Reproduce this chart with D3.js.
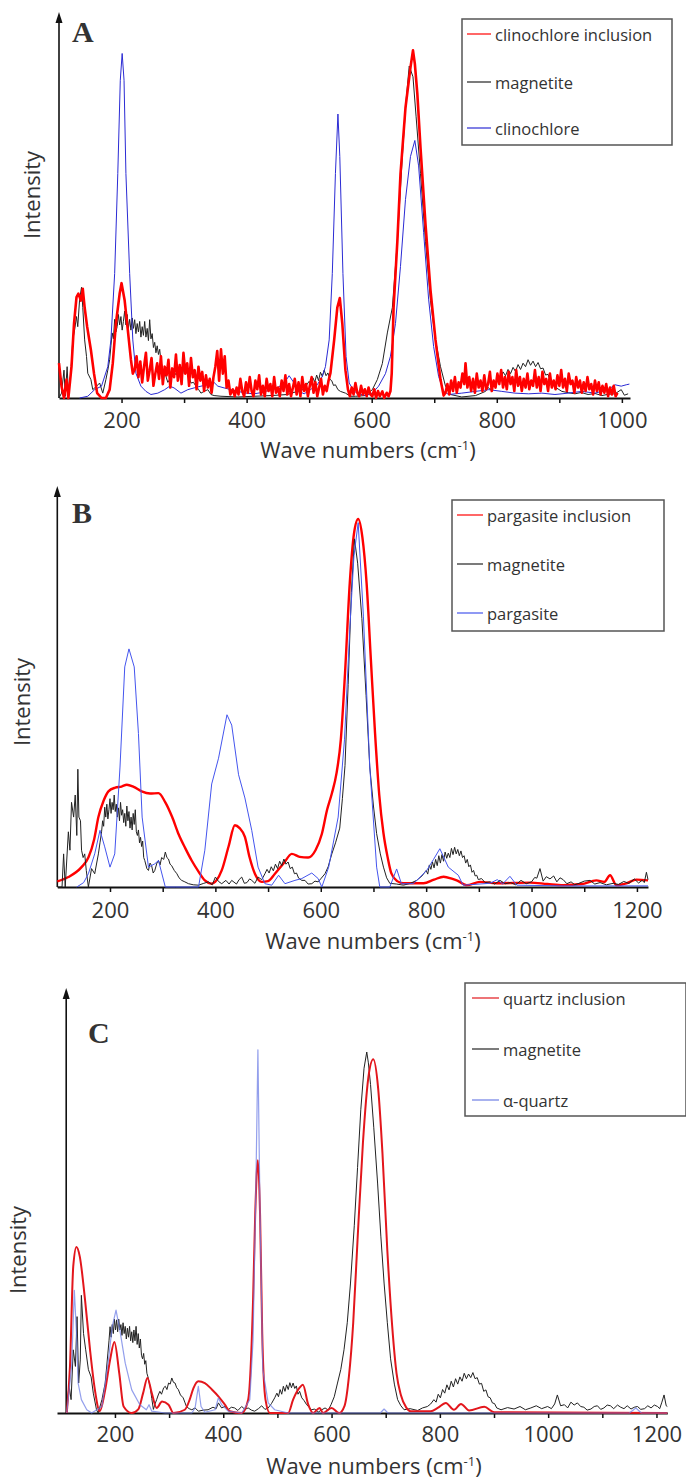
<!DOCTYPE html>
<html>
<head>
<meta charset="utf-8">
<script src="https://cdn.jsdelivr.net/npm/d3@7"></script>
<style>
  body { margin: 0; background: #fff; }
  text { font-family: "Open Sans", sans-serif; fill: #333; }
</style>
</head>
<body>
<svg id="chart" width="686" height="1481"></svg>
<script>
// ---- Panel A: clinochlore (wavenumber, relative intensity 0-100) ----
const aInclusion = [[100,10],[104,3.4],[108,0],[112,5.3],[115,0],[120,9],[124,21.4],[128,29],[131,30],[135,28],[138,31.4],[141,26],[145,20.5],[151,13.8],[156,7],[161,1.4],[168,0],[175,0],[181,2.4],[186,10],[191,21.4],[197,30],[200,33],[205,28],[210,19.6],[215,11],[218,7],
  [221,8.2],[224,12],[227,6],[230,10.5],[233,4.5],[236,9],[239,13],[242,5],[245,8],[248,11.5],[251,3.5],[254,7],[257,10],[260,5.5],[263,12],[266,4],[269,9],[272,6.5],[275,11],[278,3],[281,8.5],[284,6],[287,12.5],[290,5],[293,9.5],[296,4],[299,13],[302,7],[305,10],[308,3.5],[311,11.5],[314,6],[317,8],[320,2.5],[323,9],[326,5],[329,7.5],[332,2],[335,6.5],[338,3],[341,5.5],[344,1.5],[347,6],[350,9],[353,13.5],[356,5],[359,14],[362,7],[365,12],[368,3],[371,5],[374,1],
  [378,2.5],[381,0.5],[384,3],[387,1],[390,5.5],[393,2],[396,0.5],[399,4.5],[402,1.5],[405,6],[408,2],[411,0.5],[414,5],[417,2.5],[420,6.5],[423,1],[426,3.5],[429,0.5],[432,5.5],[435,2],[438,4],[441,0.5],[444,6],[447,1.5],[450,3],[453,0.5],[456,5],[459,2],[462,6.5],[465,1],[468,4],[471,0.5],[474,3],[477,5.5],[480,1],[483,4.5],[486,0.5],[489,6],[492,2],[495,4],[498,0.5],[501,3.5],[504,6],[507,1.5],[510,4.5],[513,0.5],[516,3],[519,5.5],[522,1],[525,3.5],[528,2],[531,5],
  [534,7.1],[540,16.7],[545,26],[549,28.7],[553,21.4],[558,8],[562,2.5],[565,0.5],[568,3],[571,1],[574,4.3],[577,1.5],[580,0.5],[583,3.5],[586,1],[589,2.5],[592,0.5],[595,3],[598,1],[601,0.5],[604,2.5],[607,0],[610,2],[613,0.5],[617,1.9],[620,0],[624,1.5],[627,0.5],[630,2],[632,7.1],[635,26],[641,45],[646,64.3],[654,83.4],[662,95],[666,99.9],[669,96],[673,87.3],[678,72],[686,50],[694,31],[702,16.7],[710,5.3],[715,0.7],
  [718,1.5],[721,4],[724,1],[727,5],[730,2],[733,6],[736,1.5],[739,4.5],[742,3],[745,7],[748,4],[750,10],[753,3],[756,6],[759,2],[762,5.5],[765,1.5],[768,7],[771,3],[774,5],[777,2],[780,6.5],[783,2.5],[786,4],[789,7.5],[792,2],[795,5],[798,3],[801,7],[804,4],[807,8],[810,3],[813,6],[816,2.5],[819,7.5],[822,4],[825,6],[828,2],[831,8],[834,3.5],[837,6],[840,2],[843,5.5],[846,3],[849,7],[852,2.5],[855,5],[858,3.5],[861,8],[864,3],[867,6],[870,2],[873,7.5],[876,4],[879,5.5],[882,2],[885,7],[888,3],[891,5],[894,2.5],[897,6.5],[900,3.5],[903,8],[906,3],[909,5.5],[912,2],[915,7],[918,4],[921,5],[924,1.5],[927,6],[930,3],[933,5],[936,1.5],[939,4.5],[942,2],[945,6],[948,2.5],[951,4],[954,1],[957,5],[960,2],[963,4.5],[966,1],[969,3.5],[972,1.5],[975,4],[978,0.5],[981,3],[984,1],[987,3.5],[990,0.5],[993,1.5]];
const aMagnetite = [[100,0],[104,1.4],[108,8],[110,0.5],[113,9],[115,1.4],[119,7.1],[122,16.7],[125,19.6],[128,23.4],[130,20.5],[133,28.4],[136,31.8],[138,26],[141,16.7],[144,11.9],[146,7.1],[151,5.3],[154,2.4],[160,3.4],[165,4.3],[170,1.4],[175,5.3],[178,8],
  [181,11],[183,15],[185,18.7],[187,17],[189,22.6],[191,19],[193,20.5],[195,24],[197,21],[199,23.4],[201,19.5],[203,22],[205,25],[207,21],[209,24],[211,20],[213,22.6],[215,19.5],[217,23],[219,20],[221,22.5],[223,18.5],[225,21.4],[227,19],[229,22],[231,17.5],[233,20.5],[235,18],[237,22],[239,17.5],[241,20],[243,16.5],[245,22.5],[247,17],[249,18.5],[251,14.5],[253,16],[255,13],[257,15],[259,12.5],[261,14],[263,10.5],[265,9],[267,7.5],
  [271,6.2],[274,4.5],[277,5.3],[280,7.5],[283,6],[287,7.1],[291,6],[295,8],[298,7],[300,9.4],[303,8],[306,7.1],[309,5.5],[311,4.3],[315,4.5],[319,3.4],[323,2.5],[327,1.4],[333,2],[338,2.4],[343,1],[348,0.7],[359,0.5],[386,0.3],[412,0.5],[439,0.7],[465,1],[481,1.9],[490,2.4],[495,3.5],
  [500,4.8],[503,3.8],[506,5.8],[509,4.6],[512,6.6],[515,5],[518,7.4],[521,6.2],[524,8],[527,6.4],[530,7.2],[533,5.4],[536,5],[539,3.6],[542,3.8],[546,2.4],[550,1.9],[558,1.4],[566,0.5],[574,0.5],[590,0.7],[601,2.4],[609,5.3],[617,9.9],[625,18.7],[633,26],[641,45],[649,69.4],[655,85.6],[660,95.4],[666,92.3],[671,80.8],[678,64.5],[686,45],[694,28],[702,16.7],[710,9],[718,3.4],[726,1],[744,0.3],[766,0.7],
  [782,1.9],[786,3],[790,2.4],[794,4.5],[798,3.8],[802,6.5],[806,5.2],[810,7.5],[814,6.4],[818,8.2],[822,7],[826,8.8],[830,7.6],[834,9.6],[838,8.2],[842,10],[846,9],[850,11],[854,9.4],[858,10.6],[862,9],[866,10.2],[870,8.4],[874,8.6],[878,6.6],[882,6.8],[886,4.6],[890,4.4],[894,3],[898,2.6],[904,1.9],[915,1.5],[925,1.2],[935,1.6],[946,1],[957,1.3],[968,0.7],[979,1.1],[989,1.2],[999,2.4],[1004,0.8],[1010,1.2]];
const aClinochlore = [[133,0],[146,0.5],[157,2.4],[168,3.4],[178,9],[183,16.7],[189,35.8],[194,64.5],[198,91.3],[201,99],[204,91.3],[207,64.5],[213,35.8],[218,16.7],[223,7.1],[231,3.4],[239,1.9],[247,1],[258,1.4],[269,2.4],[277,3.4],[284,2.9],[295,1.4],[306,2.4],[316,2.9],[327,3.4],[338,3.8],[346,4.8],[354,3.4],[364,2.9],[375,2.4],[386,1.9],[399,1.4],[412,1.2],[425,1.6],[439,2.4],[449,2.9],[460,4.3],[468,6.4],[476,4.3],[484,1.9],[492,1.2],[502,2.4],[513,3.8],[521,6.2],[526,9],[532,16.7],[537,35.8],[542,64.5],[546,81.6],[549,69.4],[554,35.8],[559,11.9],[564,4.3],[572,1.9],[580,1.2],[590,0.7],[601,1.4],[611,3.4],[622,7],[630,12],[638,21.4],[646,37.8],[654,57],[662,69.4],[669,74],[675,66.7],[683,47.6],[691,28.4],[699,14.8],[707,6.2],[715,1.9],[723,1],[744,1.4],[766,1.9],[787,2.4],[808,1.9],[829,1.4],[851,1.2],[872,1.4],[893,1],[914,1.4],[936,1.9],[957,1.4],[978,2.4],[989,3.8],[999,3.4],[1007,3.8],[1012,4]];

// ---- Panel B: pargasite ----
const bInclusion = [[100,1.5],[121,2.7],[146,5.4],[159,8],[170,13],[178,19],[188,23.5],[197,26],[210,27],[222,27.3],[232,27.8],[245,27.2],[260,26],[276,25.4],[292,25.5],[305,23],[318,19],[330,14.4],[343,10.5],[355,7.2],[368,4.2],[380,1.8],[393,0.9],[402,1.8],[412,4.5],[425,11],[437,16.8],[446,16],[456,13.6],[465,8],[475,3.6],[488,1.4],[500,1.6],[513,3.6],[530,6.5],[545,9],[560,8.2],[576,8],[590,10],[602,14.4],[612,21],[621,25.4],[630,31],[638,40],[646,58],[655,82.5],[663,96],[671,100],[679,95],[687,82.5],[695,62],[703,41.8],[711,25],[719,14.6],[727,8],[734,3.7],[745,1.6],[757,1],[795,1],[815,2],[833,2.8],[850,2.2],[858,1.8],[877,0.5],[902,1.4],[934,1],[997,1.2],[1030,0.8],[1060,0.5],[1095,0.8],[1123,1.8],[1138,1.4],[1149,3.2],[1161,0.5],[1180,1],[1199,2],[1221,1.8]];
const bMagnetite = [[100,0],[109,0],[112,9],[115,0],[121,15],[124,10],[127,23],[131,19],[134,25],[137,14],[139,32],[141,19],[144,18],[146,10],[149,8],[152,9],[155,4.5],[159,0],[165,5],[171,3.6],[178,9],[181,12],
  [184,15],[186,18],[188,16.5],[190,21.7],[192,19],[194,22.5],[196,18.5],[198,21],[200,24],[202,20],[204,23],[206,21],[208,25],[210,20.5],[212,22.5],[214,19],[216,21.5],[218,18],[220,23],[222,19.5],[224,21],[226,17.5],[228,20],[230,16.5],[232,22],[234,18],[236,20.5],[238,16],[240,19],[242,15.5],[244,20],[246,17],[248,21],[250,15],[252,14],[254,15.5],[256,12],[258,13.5],[260,11],[262,12.5],[264,8],[266,7.2],
  [270,5],[273,4.5],[276,6.5],[279,5.8],[282,3.8],[285,4.5],[289,6.5],[292,7.2],[295,6],[298,8],[302,7.5],[305,9.5],[308,8],[311,7.6],[314,6.2],[317,5.8],[322,4.5],[327,3.6],[331,2.5],[336,1.8],[342,1.4],[349,0.9],[358,0.6],[368,0.5],[378,1],[387,1.4],[394,0.6],[400,2.7],[406,1.5],[412,0.9],[420,1.8],[426,0.8],[431,1.8],[440,0.8],[445,2],[450,2.7],[455,1],[460,1.2],[465,2.2],[469,1.8],[475,1],[481,2.7],[488,2],
  [494,3.6],[498,4.8],[502,3.8],[506,5.5],[510,4.4],[514,6.2],[518,5],[522,7],[526,5.8],[530,7.6],[534,6.2],[538,6.8],[542,5],[546,5.4],[550,3.6],[554,3.8],[558,2.4],[564,1.8],[570,1.8],[576,0.8],[583,0.9],[589,1.6],[595,1.4],[601,2.4],[608,3.6],[614,5.5],[621,9],[628,12],[636,16],[641,24],[646,33],[652,55],[658,80],[664,94.6],[670,88],[678,73],[686,52],[693,32.6],[700,22],[706,14.5],[713,9],[719,5.4],[725,2.5],[731,1],[744,0.8],[757,0.5],[770,1],[782,1.8],[792,3],
  [800,4.5],[803,3.5],[806,6],[809,4.8],[812,6.8],[815,5.2],[818,7.5],[821,5.8],[824,8.5],[827,6.5],[830,8.8],[833,7],[836,9.5],[839,7.8],[842,9.2],[845,8],[848,10.5],[851,8.8],[854,10.8],[857,9],[860,10.2],[863,8.5],[866,9.8],[869,8],[872,8.5],[875,6.5],[878,7.5],[881,5.5],[884,6],[887,4],[890,4.5],[893,3],[896,3.2],[899,2],
  [905,2.3],[912,1.2],[921,1.4],[930,0.8],[940,1.8],[950,0.9],[960,1.2],[970,0.6],[980,1.8],[990,0.9],[1000,1.4],[1006,2.6],[1010,2.4],[1016,5],[1022,1.6],[1028,2.8],[1035,2.2],[1042,3],[1048,1.4],[1054,2.5],[1060,2],[1067,0.9],[1075,1.4],[1082,0.6],[1090,1],[1100,1.6],[1111,1.8],[1120,0.8],[1130,1.2],[1142,0.6],[1155,1],[1165,0.7],[1175,1.5],[1185,1],[1195,2.2],[1203,1.1],[1210,1.8],[1214,1.2],[1218,4],[1221,2]];
const bPargasite = [[137,0],[150,1.2],[159,3.6],[171,9],[181,15.4],[190,10.9],[200,5.4],[209,9],[219,32.6],[228,59.8],[236,64.7],[246,59.8],[254,41.7],[261,19],[273,5.4],[285,6.3],[292,7.2],[305,0],[324,0],[368,0],[380,10],[393,28],[406,35],[422,46.8],[431,44],[444,30.5],[456,24.2],[469,15.4],[481,5.4],[494,0.9],[507,0.5],[520,3.2],[532,0.9],[551,1.8],[564,2.3],[583,3.8],[595,2.3],[602,0],[615,5.4],[633,19],[645,40],[655,70],[663,90],[671,99],[681,73.4],[693,32.6],[706,5.4],[712,0],[731,0],[744,4.9],[753,0.9],[776,0.9],[801,4.5],[814,7.5],[826,10.4],[842,5.4],[861,3.2],[870,0.5],[921,1],[935,2],[945,0.8],[959,2.9],[972,0.5],[1060,0.3],[1221,0.3]];

// ---- Panel C: quartz ----
const cInclusion = [[111,0],[117,13],[123,40.6],[129,46],[135,43.4],[145,31],[154,17.5],[163,6.4],[172,0.5],[182,6.4],[191,14.7],[199,19.7],[208,11],[216,1.8],[231,0],[243,1],[252,5.5],[260,9.7],[268,5.5],[277,1.4],[287,3.2],[299,2.3],[308,0],[329,0.9],[338,3.7],[345,6.9],[354,8.8],[366,8.3],[379,6.5],[391,4.6],[403,2.3],[412,0.5],[434,0],[446,3.7],[455,31],[459,55],[464,70],[468,55],[472,22],[478,3.7],[486,0],[520,0],[529,3.7],[541,7],[547,7.8],[557,2.3],[566,0],[578,1.4],[584,0],[600,1.4],[614,0],[624,2],[632,10],[640,25],[648,48],[658,75],[668,93],[677,98],[686,90],[694,72],[703,45],[712,24],[720,11],[728,5],[738,1.5],[746,0.5],[783,0.5],[796,1.4],[811,2.8],[826,0.9],[839,2.5],[854,0.7],[882,1.7],[900,0.2],[1220,0]];
const cMagnetite = [[111,0],[115,8],[119,3.7],[123,17.5],[127,12.9],[130,26.7],[133,8.3],[136,14.7],[138,32.6],[142,22],[146,17.5],[151,12],[156,10],[160,5.5],[166,0.9],[169,0],[176,3.7],[182,8.3],
  [187,16.6],[189,20],[191,23.9],[193,21],[195,24.5],[197,22],[199,26],[201,23],[203,25.8],[205,22.5],[207,26],[209,23],[211,24.5],[213,21.5],[215,25],[217,22],[219,24],[221,20.5],[223,23.5],[225,21],[227,24],[229,20],[231,22.5],[233,19.5],[235,23],[237,20],[239,24],[241,19],[243,22],[245,18],[247,20.5],[249,16],[251,15],[253,16.5],[255,13.5],[257,14.5],[259,11],[261,10],[263,8.5],[265,7.4],
  [268,4],[271,1],[274,2.5],[277,3.7],[280,5],[283,6],[286,5.2],[290,7],[293,7.4],[296,6.5],[299,8.3],[302,8],[305,9.7],[308,8.5],[311,8.3],[314,7],[317,6.5],[321,5],[326,4.2],[329,3],[332,1.8],[337,1.2],[342,0.9],[348,1.4],[354,0.5],[363,0.8],[372,0.9],[381,1.6],[387,1.2],[391,2.8],[397,1.4],[403,1.8],[409,0.9],[415,1.6],[421,1.4],[427,0.7],[434,1.8],[440,1],[446,1.4],[452,0.8],[458,0.5],[465,1.2],[471,2],[477,1],[483,1.4],[489,2.6],
  [495,4.2],[499,5.5],[502,4.5],[505,6.5],[508,5.2],[511,7.4],[514,6],[517,7.8],[520,6.5],[523,8.4],[526,7],[529,8.3],[532,6.8],[535,7.5],[538,5.2],[541,6],[545,4.2],[549,3.5],[554,2.3],[563,0.9],[569,1.1],[575,0.2],[582,0.9],[588,1.4],[594,0.8],[599,2.3],[605,4.5],[611,8.3],[617,12],[623,17.5],[629,25],[635,36],[642,52],[648,68],[654,84],[660,95.5],[665,100],[668,97],[672,91],[678,79],[685,63.7],[691,49],[697,36],[703,25],[709,15],[716,8],[722,3.7],[728,2],[734,0.9],[745,1.2],[759,0.7],[768,1.4],[777,1.8],[783,2.5],
  [789,3.7],[793,3],[797,5.2],[801,4.2],[805,6.5],[809,5.5],[813,7.8],[817,6.4],[821,8.8],[825,7.2],[829,9.5],[833,8],[837,10],[841,8.8],[845,11],[849,9.5],[853,10.8],[857,9.8],[861,11.2],[865,9.5],[869,9.8],[873,8],[877,8.2],[881,6],[885,6.4],[889,4.5],[893,4.2],[897,2.8],[901,2.6],[905,1.4],[913,0.9],
  [925,1.5],[937,1.1],[948,1.8],[958,0.9],[968,1.4],[978,2],[988,1.2],[999,1.8],[1006,1.2],[1012,2.5],[1017,5],[1023,2],[1030,2.3],[1036,1.4],[1042,3],[1048,2.2],[1054,2.8],[1060,1.8],[1066,1.6],[1072,0.8],[1079,1.1],[1085,1.8],[1091,2],[1097,1],[1103,1.4],[1109,2.2],[1115,2],[1121,1.2],[1128,2.2],[1134,1.6],[1140,1.2],[1146,2],[1153,1.1],[1159,1.6],[1165,1.8],[1171,1],[1178,1.2],[1184,2],[1190,1.4],[1196,2.2],[1202,1.8],[1206,1.2],[1210,3],[1214,5],[1218,2],[1220,1.8]];
const cQuartz = [[111,0],[120,13],[125,34],[129,22],[132,8.3],[138,3.7],[148,0.9],[157,0],[176,1.8],[188,14.7],[195,23.9],[202,28.5],[209,23],[219,13.8],[231,6.4],[246,2.3],[258,0.9],[263,2.3],[268,0.5],[293,0],[342,0],[348,1.4],[354,7.4],[359,1.8],[366,0.2],[385,0.9],[391,4.2],[397,2.3],[409,0.5],[434,0],[449,3.7],[455,20],[460,60],[464,100.6],[468,55],[473,12],[483,2.8],[495,0.9],[520,0],[690,0],[697,1.1],[704,0],[1150,0],[1162,1.4],[1172,0],[1220,0]];

const ticksA = [200, 300, 400, 500, 600, 700, 800, 900, 1000];
const ticksBC = [200, 300, 400, 500, 600, 700, 800, 900, 1000, 1100, 1200];
const labelsA = [200, 400, 600, 800, 1000];
const labelsBC = [200, 400, 600, 800, 1000, 1200];

const svg = d3.select('#chart');

const panels = [
  {
    letter: 'A', letterX: 72, letterY: 42,
    xDomain: [100, 1013], xRange: [59, 630], yAxisAt: 100,
    base: 398, top: 50, arrowTip: 12, pad: 9,
    ticks: ticksA, labels: labelsA,
    titleY: 458, titleX: 368, intensityX: 40, intensityY: 195,
    legend: { x0: 462, y0: 19, x1: 672, y1: 145, rows: [34, 82, 128], lx: 467, tx: 495 },
    series: [
      { name: 'magnetite', data: aMagnetite, color: '#222', width: 1 },
      { name: 'clinochlore', data: aClinochlore, color: '#2b2bd4', width: 1 },
      { name: 'clinochlore inclusion', data: aInclusion, color: '#ff0000', width: 2.6 }
    ],
    order: ['clinochlore inclusion', 'magnetite', 'clinochlore']
  },
  {
    letter: 'B', letterX: 72, letterY: 523,
    xDomain: [100, 1221], xRange: [57.3, 648], yAxisAt: 100,
    base: 887, top: 519, arrowTip: 486, pad: 10,
    ticks: ticksBC, labels: labelsBC,
    titleY: 949, titleX: 373, intensityX: 30, intensityY: 702,
    legend: { x0: 452, y0: 500, x1: 664, y1: 631, rows: [515, 564, 613], lx: 457, tx: 487 },
    series: [
      { name: 'pargasite inclusion', data: bInclusion, color: '#ff0000', width: 2.4, smooth: true },
      { name: 'magnetite', data: bMagnetite, color: '#222', width: 1 },
      { name: 'pargasite', data: bPargasite, color: '#4455ee', width: 1 }
    ],
    order: ['pargasite inclusion', 'magnetite', 'pargasite']
  },
  {
    letter: 'C', letterX: 88, letterY: 1043,
    xDomain: [93, 1220], xRange: [57, 667.3], yAxisAt: 110,
    base: 1413, top: 1052, arrowTip: 988, pad: 8,
    ticks: ticksBC, labels: labelsBC,
    titleY: 1474, titleX: 374, intensityX: 26, intensityY: 1250,
    legend: { x0: 465, y0: 983, x1: 686, y1: 1116, rows: [998, 1049, 1100], lx: 472, tx: 503 },
    series: [
      { name: 'magnetite', data: cMagnetite, color: '#222', width: 1 },
      { name: 'quartz inclusion', data: cInclusion, color: '#e3161c', width: 2, smooth: true },
      { name: '\u03b1-quartz', data: cQuartz, color: '#6f7fe6', width: 1.2, opacity: 0.75 }
    ],
    order: ['quartz inclusion', 'magnetite', '\u03b1-quartz']
  }
];

panels.forEach(p => {
  const x = d3.scaleLinear().domain(p.xDomain).range(p.xRange);
  const y = d3.scaleLinear().domain([0, 100]).range([p.base, p.top]);
  const g = svg.append('g');

  // x axis, minor ticks every 100, labels every 200
  const ax = g.append('g')
      .attr('transform', 'translate(0,' + p.base + ')')
      .call(d3.axisBottom(x)
        .tickValues(p.ticks)
        .tickFormat(d => p.labels.includes(d) ? d : '')
        .tickSize(5).tickSizeOuter(0).tickPadding(p.pad));
  ax.select('.domain').attr('stroke', '#111').attr('stroke-width', 2);
  ax.selectAll('.tick line').attr('stroke', '#111').attr('stroke-width', 1.5);
  ax.selectAll('.tick text')
      .style('font-family', '"Open Sans", sans-serif')
      .style('font-size', '22px')
      .attr('fill', '#333');

  // y axis with arrow head
  const yx = x(p.yAxisAt);
  g.append('line')
      .attr('x1', yx).attr('x2', yx)
      .attr('y1', p.base).attr('y2', p.arrowTip + 6)
      .attr('stroke', '#111').attr('stroke-width', 1.6);
  g.append('path')
      .attr('d', 'M' + (yx - 3.5) + ',' + (p.arrowTip + 11) + 'L' + yx + ',' + p.arrowTip + 'L' + (yx + 3.5) + ',' + (p.arrowTip + 11) + 'Z')
      .attr('fill', '#111');

  // spectra
  p.series.forEach(s => {
    const line = d3.line()
        .x(d => x(d[0]))
        .y(d => y(d[1]))
        .curve(s.smooth ? d3.curveMonotoneX : d3.curveLinear);
    g.append('path')
        .datum(s.data)
        .attr('d', line)
        .attr('fill', 'none')
        .attr('stroke', s.color)
        .attr('stroke-width', s.width)
        .attr('stroke-linejoin', 'round')
        .attr('opacity', s.opacity || 1);
  });

  // panel letter
  g.append('text')
      .attr('x', p.letterX).attr('y', p.letterY)
      .style('font-family', '"Liberation Serif", serif')
      .style('font-weight', 'bold')
      .style('font-size', '30px')
      .attr('fill', '#000')
      .text(p.letter);

  // axis titles
  const t = g.append('text')
      .attr('x', p.titleX).attr('y', p.titleY)
      .attr('text-anchor', 'middle')
      .style('font-size', '22px');
  t.append('tspan').text('Wave numbers (cm');
  t.append('tspan').attr('dy', -8).style('font-size', '13px').text('-1');
  t.append('tspan').attr('dy', 8).text(')');

  g.append('text')
      .attr('transform', 'translate(' + p.intensityX + ',' + p.intensityY + ') rotate(-90)')
      .attr('text-anchor', 'middle')
      .style('font-size', '22px')
      .text('Intensity');

  // legend
  const L = p.legend;
  g.append('rect')
      .attr('x', L.x0).attr('y', L.y0)
      .attr('width', L.x1 - L.x0).attr('height', L.y1 - L.y0)
      .attr('fill', '#fff').attr('stroke', '#555').attr('stroke-width', 1.5);
  p.order.forEach((name, i) => {
    const s = p.series.find(d => d.name === name);
    g.append('line')
        .attr('x1', L.lx).attr('x2', L.tx - 4)
        .attr('y1', L.rows[i]).attr('y2', L.rows[i])
        .attr('stroke', s.color).attr('stroke-width', 1.4)
        .attr('opacity', 0.85);
    g.append('text')
        .attr('x', L.tx).attr('y', L.rows[i])
        .attr('dominant-baseline', 'central')
        .style('font-size', '16.5px')
        .text(name);
  });
});
</script>
</body>
</html>
